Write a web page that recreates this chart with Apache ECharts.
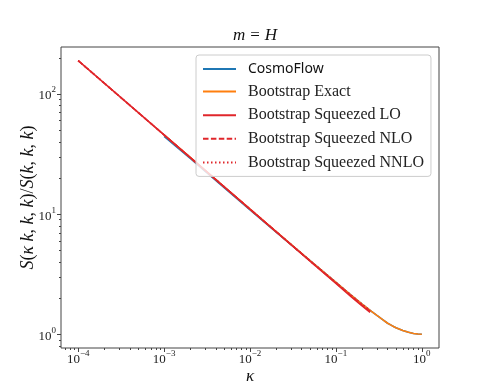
<!DOCTYPE html>
<html>
<head>
<meta charset="utf-8">
<script src="https://cdn.jsdelivr.net/npm/echarts@6/dist/echarts.min.js"></script>
<style>
  html, body { margin: 0; padding: 0; background: #fff; }
  #chart { width: 488px; height: 391px; }
</style>
</head>
<body>
<div id="chart"></div>
<script>
// κ values and S(κk,k,k)/S(k,k,k)
var kappaSqueezed = [1e-4, 1e-3, 1e-2, 0.05, 0.1, 0.15, 0.2, 0.25];
var squeezedLO = [189.5, 45.6, 11.0, 4.07, 2.65, 2.06, 1.73, 1.52];
var squeezedNLO = [189.5, 45.6, 11.0, 4.08, 2.68, 2.09, 1.76, 1.56];
var squeezedNNLO = [189.5, 45.6, 11.0, 4.10, 2.71, 2.12, 1.79, 1.585];

var kappaFull = [1e-3, 2e-3, 5e-3, 1e-2, 2e-2, 5e-2, 0.1, 0.15, 0.2, 0.25, 0.3, 0.35, 0.4, 0.45, 0.5, 0.6, 0.7, 0.8, 0.9, 1.0];
var cosmoFlow = [44.4, 29.2, 16.6, 10.85, 7.12, 4.10, 2.71, 2.12, 1.79, 1.585, 1.435, 1.324, 1.236, 1.180, 1.135, 1.076, 1.040, 1.016, 1.005, 1.0];
var bootstrapExact = [45.6, 29.8, 16.9, 11.0, 7.18, 4.10, 2.71, 2.12, 1.79, 1.585, 1.435, 1.324, 1.236, 1.180, 1.135, 1.076, 1.040, 1.016, 1.005, 1.0];

var xMajor = [1e-4, 1e-3, 1e-2, 1e-1, 1];
var xMinor = [7e-5, 8e-5, 9e-5];
var yMajor = [1, 10, 100];
var yMinor = [0.8, 0.9, 200];
[1e-4, 1e-3, 1e-2, 1e-1].forEach(function (d) {
  for (var m = 2; m <= 9; m++) xMinor.push(m * d);
});
[1, 10].forEach(function (d) {
  for (var m = 2; m <= 9; m++) yMinor.push(m * d);
});

var X_MIN = Math.pow(10, -4.2), X_MAX = Math.pow(10, 0.2);
var Y_MIN = Math.pow(10, -0.114), Y_MAX = Math.pow(10, 2.391);

var serif = "Liberation Serif";
var axisColor = "#444";

function pairs(xs, ys) {
  return xs.map(function (x, i) { return [x, ys[i]]; });
}

function powLabel(v) {
  var e = Math.round(Math.log10(v));
  return "{b|10}{e|" + (e < 0 ? "\u2212" + (-e) : e) + "}";
}

var tickRich = {
  b: { fontFamily: serif, fontSize: 13, color: "#222", lineHeight: 17, verticalAlign: "bottom" },
  e: { fontFamily: serif, fontSize: 9, color: "#222", lineHeight: 17, verticalAlign: "top" }
};

var chart = echarts.init(document.getElementById("chart"));

var option = {
  animation: false,
  backgroundColor: "#fff",
  title: {
    text: "{i|m} {r|=} {i|H}",
    left: 250,
    textAlign: "center",
    top: 22,
    textStyle: {
      fontWeight: "normal",
      rich: {
        i: { fontFamily: serif, fontStyle: "italic", fontWeight: "normal", fontSize: 17, color: "#111" },
        r: { fontFamily: serif, fontWeight: "normal", fontSize: 17, color: "#111" }
      }
    }
  },
  grid: {
    left: 61, right: 49, top: 47, bottom: 43,
    show: true, borderColor: axisColor, borderWidth: 1, backgroundColor: "transparent"
  },
  legend: {
    orient: "vertical",
    left: 196,
    top: 55,
    padding: [7, 7, 6, 6],
    itemWidth: 33,
    itemHeight: 14,
    itemGap: 7.6,
    itemStyle: { opacity: 0 },
    backgroundColor: "rgba(255,255,255,0.8)",
    borderColor: "#cccccc",
    borderWidth: 1,
    borderRadius: 3,
    data: ["CosmoFlow", "Bootstrap Exact", "Bootstrap Squeezed LO", "Bootstrap Squeezed NLO", "Bootstrap Squeezed NNLO"],
    formatter: function (name) {
      return name === "CosmoFlow" ? "{s|" + name + "}" : "{r|" + name + "}";
    },
    textStyle: {
      rich: {
        s: { fontFamily: "Noto Sans", fontSize: 14, color: "#111", lineHeight: 14, padding: [0, 0, 0, 7] },
        r: { fontFamily: serif, fontSize: 16, color: "#222", lineHeight: 14, padding: [0, 0, 0, 7] }
      }
    }
  },
  xAxis: [
    {
      type: "log", min: X_MIN, max: X_MAX, position: "bottom",
      name: "κ", nameLocation: "middle", nameGap: 20, nameMoveOverlap: false,
      nameTextStyle: { fontFamily: serif, fontStyle: "italic", fontSize: 17, color: "#111" },
      axisLine: { show: false },
      axisTick: { show: true, length: 4, lineStyle: { color: axisColor }, customValues: xMajor },
      axisLabel: { margin: 1, customValues: xMajor, formatter: powLabel, rich: tickRich },
      splitLine: { show: false }, minorTick: { show: false }
    },
    {
      type: "log", min: X_MIN, max: X_MAX, position: "bottom",
      axisLine: { show: false },
      axisTick: { show: true, length: 2, lineStyle: { color: axisColor }, customValues: xMinor },
      axisLabel: { show: false },
      splitLine: { show: false }
    }
  ],
  yAxis: [
    {
      type: "log", min: Y_MIN, max: Y_MAX, position: "left",
      name: "{i|S}{r|(}{i|κ k}{r|, }{i|k}{r|, }{i|k}{r|)/}{i|S}{r|(}{i|k}{r|, }{i|k}{r|, }{i|k}{r|)}",
      nameLocation: "middle", nameGap: 24, nameRotate: 90, nameMoveOverlap: false,
      nameTextStyle: {
        rich: {
          i: { fontFamily: serif, fontStyle: "italic", fontSize: 18, color: "#111" },
          r: { fontFamily: serif, fontSize: 18, color: "#111" }
        }
      },
      axisLine: { show: false },
      axisTick: { show: true, length: 4, lineStyle: { color: axisColor }, customValues: yMajor },
      axisLabel: { margin: 5, customValues: yMajor, formatter: powLabel, rich: tickRich },
      splitLine: { show: false }, minorTick: { show: false }
    },
    {
      type: "log", min: Y_MIN, max: Y_MAX, position: "left",
      axisLine: { show: false },
      axisTick: { show: true, length: 2, lineStyle: { color: axisColor }, customValues: yMinor },
      axisLabel: { show: false },
      splitLine: { show: false }
    }
  ],
  series: [
    {
      name: "CosmoFlow", type: "line", symbol: "none", clip: true,
      lineStyle: { color: "#1f77b4", width: 1.6 }, itemStyle: { color: "#1f77b4" },
      data: pairs(kappaFull, cosmoFlow)
    },
    {
      name: "Bootstrap Exact", type: "line", symbol: "none", clip: true,
      lineStyle: { color: "#ff7f0e", width: 1.6 }, itemStyle: { color: "#ff7f0e" },
      data: pairs(kappaFull, bootstrapExact)
    },
    {
      name: "Bootstrap Squeezed LO", type: "line", symbol: "none", clip: true,
      lineStyle: { color: "#e0262b", width: 1.6 }, itemStyle: { color: "#e0262b" },
      data: pairs(kappaSqueezed, squeezedLO)
    },
    {
      name: "Bootstrap Squeezed NLO", type: "line", symbol: "none", clip: true,
      lineStyle: { color: "#e0262b", width: 1.6, type: [5.5, 2.4] }, itemStyle: { color: "#e0262b" },
      data: pairs(kappaSqueezed, squeezedNLO)
    },
    {
      name: "Bootstrap Squeezed NNLO", type: "line", symbol: "none", clip: true,
      lineStyle: { color: "#e0262b", width: 1.6, type: [1.5, 2.5] }, itemStyle: { color: "#e0262b" },
      data: pairs(kappaSqueezed, squeezedNNLO)
    }
  ]
};

chart.setOption(option);
</script>
</body>
</html>
